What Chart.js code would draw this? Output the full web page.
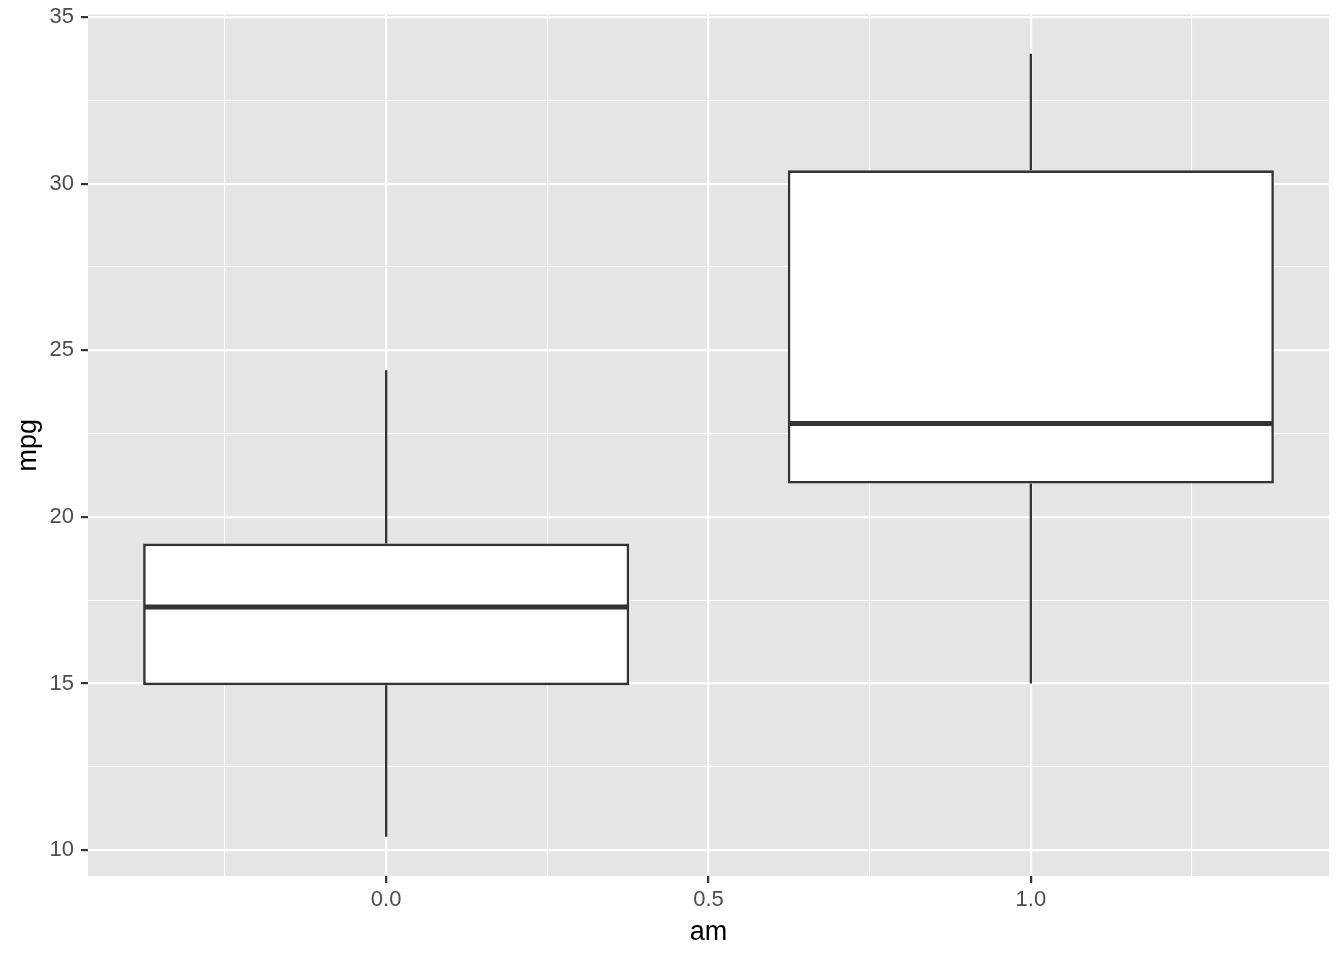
<!DOCTYPE html>
<html><head><meta charset="utf-8">
<script src="https://cdn.jsdelivr.net/npm/chart.js@4/dist/chart.umd.min.js"></script>
<style>html,body{margin:0;padding:0;background:#fff}#wrap{width:1344px;height:960px}</style>
</head><body><div id="wrap"><canvas id="c" width="1344" height="960"></canvas></div>
<script>
const am = [0, 1];
const mpgMin = [10.4, 15.0];
const mpgQ1 = [14.95, 21.0];
const mpgMedian = [17.3, 22.8];
const mpgQ3 = [19.2, 30.4];
const mpgMax = [24.4, 33.9];
const boxWidth = 0.75;
const yTicks = [10, 15, 20, 25, 30, 35];
const yMinor = [12.5, 17.5, 22.5, 27.5, 32.5];
const xTicks = [0, 0.5, 1];
const xMinor = [-0.25, 0.25, 0.75, 1.25];
const xStep = 0.25;

const dark = '#333333';
const datasets = [];
am.forEach((x, i) => {
  datasets.push({type: 'scatter', showLine: true, data: [{x: x, y: mpgMin[i]}, {x: x, y: mpgQ1[i]}],
    borderColor: dark, borderWidth: 2.3, pointRadius: 0, order: 3});
  datasets.push({type: 'scatter', showLine: true, data: [{x: x, y: mpgQ3[i]}, {x: x, y: mpgMax[i]}],
    borderColor: dark, borderWidth: 2.3, pointRadius: 0, order: 3});
  datasets.push({type: 'scatter', showLine: true, data: [{x: x - boxWidth / 2, y: mpgMedian[i]}, {x: x + boxWidth / 2, y: mpgMedian[i]}],
    borderColor: dark, borderWidth: 5, pointRadius: 0, borderCapStyle: 'butt', order: 0});
});
// bar ruler uses smallest pixel gap (tick spacing xStep), so scale percentage accordingly
datasets.push({type: 'bar', data: am.map((x, i) => ({x: x, y: [mpgQ1[i], mpgQ3[i]]})),
  backgroundColor: '#ffffff', borderColor: dark, borderWidth: 2.6, borderSkipped: false,
  categoryPercentage: 1, barPercentage: (boxWidth + 0.004) / xStep, grouped: false, order: 1});

const yExp = (Math.max(...mpgMax) - Math.min(...mpgMin)) * 0.05;
const xLo = am[0] - boxWidth / 2, xHi = am[am.length - 1] + boxWidth / 2;
const xExp = (xHi - xLo) * 0.05;

const panelBg = {
  id: 'panelBg',
  beforeDraw(chart) {
    const a = chart.chartArea, ctx = chart.ctx;
    ctx.save(); ctx.fillStyle = '#E5E5E5';
    ctx.fillRect(a.left, a.top, a.right - a.left, a.bottom - a.top);
    ctx.restore();
  }
};
const fam = 'Liberation Sans, Arial, sans-serif';
new Chart(document.getElementById('c'), {
  data: {datasets},
  plugins: [panelBg],
  options: {
    responsive: false, animation: false,
    layout: {padding: {top: 14.5, right: 15, left: 0, bottom: 0}},
    plugins: {legend: {display: false}, tooltip: {enabled: false}},
    scales: {
      x: {type: 'linear', min: xLo - xExp, max: xHi + xExp, offset: false,
        afterBuildTicks(s) { s.ticks = [...xMinor, ...xTicks].sort((a, b) => a - b).map(v => ({value: v})); },
        afterFit(s) { s.height = 84; s.paddingLeft = 0; s.paddingRight = 0; },
        ticks: {autoSkip: false, maxRotation: 0, color: '#4D4D4D', font: {family: fam, size: 22}, padding: 4,
          callback: v => xTicks.includes(v) ? v.toFixed(1) : ''},
        grid: {offset: false, color: '#ffffff', lineWidth: c => xTicks.includes(c.tick && c.tick.value) ? 2.2 : 1.1,
          tickColor: c => xTicks.includes(c.tick && c.tick.value) ? dark : 'rgba(0,0,0,0)',
          tickLength: 7, tickWidth: 2.2, drawTicks: true},
        border: {display: false},
        title: {display: true, text: 'am', color: '#000', font: {family: fam, size: 27}, padding: {top: 0, bottom: 11}}
      },
      y: {type: 'linear', min: Math.min(...mpgMin) - yExp, max: Math.max(...mpgMax) + yExp,
        afterBuildTicks(s) { s.ticks = [...yMinor, ...yTicks].sort((a, b) => a - b).map(v => ({value: v})); },
        afterFit(s) { s.width = 88; s.paddingTop = 0; s.paddingBottom = 0; },
        ticks: {autoSkip: false, color: '#4D4D4D', font: {family: fam, size: 22}, padding: 7,
          callback: v => yTicks.includes(v) ? String(v) : ''},
        grid: {color: '#ffffff', lineWidth: c => yTicks.includes(c.tick && c.tick.value) ? 2.2 : 1.1,
          tickColor: c => yTicks.includes(c.tick && c.tick.value) ? dark : 'rgba(0,0,0,0)',
          tickLength: 7, tickWidth: 2.2, drawTicks: true},
        border: {display: false},
        title: {display: true, text: 'mpg', color: '#000', font: {family: fam, size: 27}, padding: {top: 12, bottom: 0}}
      }
    }
  }
});
</script></body></html>
